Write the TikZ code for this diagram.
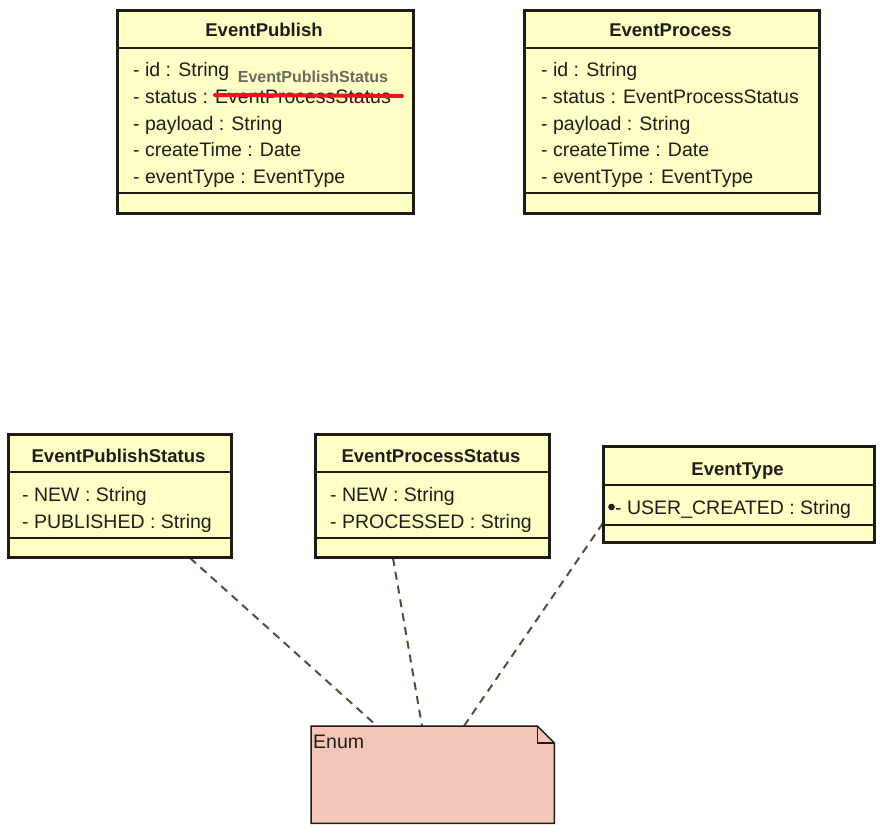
\documentclass[tikz,border=0pt]{standalone}
\usepackage{fontspec}
\setmainfont{Liberation Sans}
\usetikzlibrary{calc}
\definecolor{umlyellow}{RGB}{255,255,198}
\definecolor{umlborder}{RGB}{28,28,20}
\definecolor{txt}{RGB}{30,30,25}
\definecolor{notefill}{RGB}{244,198,184}
\definecolor{depcol}{RGB}{88,76,58}
\definecolor{strike}{RGB}{232,20,30}
\definecolor{anngray}{RGB}{104,104,92}
\begin{document}
\begin{tikzpicture}[x=1pt,y=-1pt,
  classbox/.style={draw=umlborder, line width=3pt, fill=umlyellow, anchor=north west, inner sep=0pt},
  sepline/.style={draw=umlborder, line width=1.5pt},
  title/.style={font=\fontsize{18.5}{22}\selectfont\bfseries, anchor=base, inner sep=0pt, text=txt},
  attr/.style={font=\fontsize{19.5}{22}\selectfont, anchor=base west, inner sep=0pt, text=txt},
  dep/.style={draw=depcol, line width=2pt, dash pattern=on 8pt off 6pt},
  anntext/.style={font=\fontsize{16}{18}\selectfont\bfseries, anchor=base, inner sep=0pt}
]
\useasboundingbox (0,0) rectangle (880,832);

% ---------- dependency connectors ----------
\coordinate (eps-b) at (190,558);
\coordinate (eprs-b) at (393,558);
\coordinate (et-b) at (603,523);
\coordinate (enum-a) at (377,726);
\coordinate (enum-b) at (422,726);
\coordinate (enum-c) at (464,726);
\draw[dep] (eps-b) -- (enum-a);
\draw[dep] (eprs-b) -- (enum-b);
\draw[dep] (et-b) -- (enum-c);

% ---------- EventPublish ----------
\node[classbox, minimum width=296pt, minimum height=203pt] (ep) at (116,9) {};
\draw[sepline] (116,48) -- (412,48);
\draw[sepline] (116,193) -- (412,193);
\node[title] (ep-t) at (264,37) {EventPublish};
\node[attr] (ep-a1) at (133,77) {- id : String};
\node[attr] (ep-a2) at (133,103.5) {- status : EventProcessStatus};
\node[attr] (ep-a3) at (133,130) {- payload : String};
\node[attr] (ep-a4) at (133,156.5) {- createTime : Date};
\node[attr] (ep-a5) at (133,183) {- eventType : EventType};
% annotation
\draw[strike, line width=4pt, line cap=round] (215,95) -- (402,96);
\node[anntext, text=anngray] (ann) at (313,83) {EventPublishStatus};

% ---------- EventProcess ----------
\node[classbox, minimum width=295pt, minimum height=203pt] (epr) at (523,9) {};
\draw[sepline] (523,48) -- (818,48);
\draw[sepline] (523,193) -- (818,193);
\node[title] (epr-t) at (670.5,37) {EventProcess};
\node[attr] (epr-a1) at (541,77) {- id : String};
\node[attr] (epr-a2) at (541,103.5) {- status : EventProcessStatus};
\node[attr] (epr-a3) at (541,130) {- payload : String};
\node[attr] (epr-a4) at (541,156.5) {- createTime : Date};
\node[attr] (epr-a5) at (541,183) {- eventType : EventType};

% ---------- EventPublishStatus ----------
\node[classbox, minimum width=223pt, minimum height=123pt] (eps) at (7,433) {};
\draw[sepline] (7,472) -- (230,472);
\draw[sepline] (7,538) -- (230,538);
\node[title] (eps-t) at (118.5,462) {EventPublishStatus};
\node[attr] (eps-a1) at (22,501) {- NEW : String};
\node[attr] (eps-a2) at (22,528) {- PUBLISHED : String};

% ---------- EventProcessStatus ----------
\node[classbox, minimum width=234pt, minimum height=123pt] (eprs) at (314,433) {};
\draw[sepline] (314,472) -- (548,472);
\draw[sepline] (314,538) -- (548,538);
\node[title] (eprs-t) at (431,462) {EventProcessStatus};
\node[attr] (eprs-a1) at (330,501) {- NEW : String};
\node[attr] (eprs-a2) at (330,528) {- PROCESSED : String};

% ---------- EventType ----------
\node[classbox, minimum width=271pt, minimum height=96pt] (et) at (602,445) {};
\draw[sepline] (602,485) -- (873,485);
\draw[sepline] (602,525) -- (873,525);
\node[title] (et-t) at (737.5,475) {EventType};
\fill[txt] (611.5,507) circle (3.3pt);
\node[attr] (et-a1) at (615,514) {- USER\_CREATED : String};

% ---------- Enum note ----------
\node[inner sep=0pt, minimum width=243pt, minimum height=97pt, anchor=north west] (enum) at (311,726) {};
\draw[draw=umlborder, line width=1.5pt, fill=notefill, line join=miter]
  (enum.north west) -- ($(enum.north east)+(-17,0)$) -- ($(enum.north east)+(0,17)$)
  -- (enum.south east) -- (enum.south west) -- cycle;
\draw[draw=umlborder, line width=1.5pt]
  ($(enum.north east)+(-17,0)$) -- ($(enum.north east)+(-17,17)$) -- ($(enum.north east)+(0,17)$);
\node[attr] (enum-t) at (313,748) {Enum};
\end{tikzpicture}
\end{document}
